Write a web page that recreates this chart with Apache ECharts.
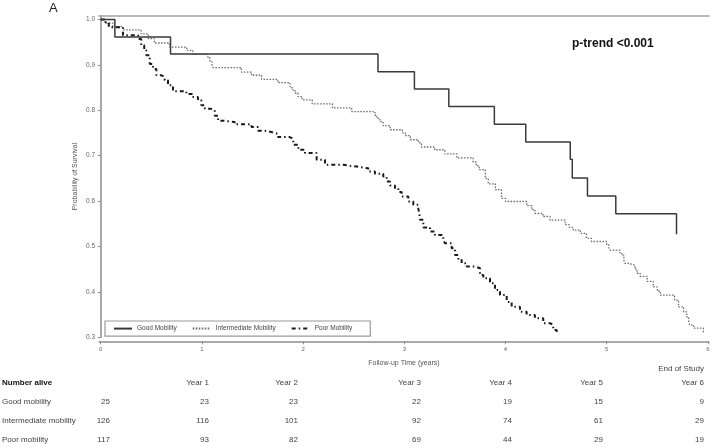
<!DOCTYPE html>
<html><head><meta charset="utf-8">
<script src="https://cdn.jsdelivr.net/npm/echarts@6/dist/echarts.min.js"></script>
<style>html,body{margin:0;padding:0;background:#fff}#c{width:717px;height:448px}</style>
</head><body><div id="c"></div>
<script>
// ---- data ----
const xTicks = [0, 1, 2, 3, 4, 5, 6];
const yTicks = [0.3, 0.4, 0.5, 0.6, 0.7, 0.8, 0.9, 1.0];
const seriesNames = ['Good Mobility', 'Intermediate Mobility', 'Poor Mobility'];

const goodTime = [0, 0.14, 0.69, 2.74, 3.10, 3.44, 3.89, 4.20, 4.64, 4.66, 4.81, 5.09, 5.69];
const goodSurv = [1.0, 0.961, 0.924, 0.885, 0.847, 0.808, 0.769, 0.730, 0.692, 0.651, 0.611, 0.572, 0.527];

const interTime = [0, 0.04, 0.12, 0.22, 0.40, 0.47, 0.53, 0.68, 0.85, 0.91, 1.06, 1.08, 1.10, 1.11, 1.39, 1.49, 1.59, 1.75, 1.87, 1.89, 1.92, 1.95, 1.99, 2.09, 2.29, 2.48, 2.71, 2.73, 2.76, 2.79, 2.86, 2.98, 3.01, 3.06, 3.14, 3.17, 3.30, 3.40, 3.52, 3.68, 3.71, 3.74, 3.80, 3.83, 3.90, 3.96, 4.00, 4.21, 4.26, 4.29, 4.37, 4.44, 4.59, 4.63, 4.67, 4.74, 4.80, 4.85, 5.00, 5.02, 5.03, 5.13, 5.15, 5.17, 5.18, 5.21, 5.28, 5.30, 5.33, 5.40, 5.46, 5.50, 5.53, 5.67, 5.71, 5.76, 5.79, 5.81, 5.82, 5.86, 5.955];
const interSurv = [1.0, 0.992, 0.984, 0.977, 0.968, 0.958, 0.948, 0.939, 0.932, 0.923, 0.915, 0.907, 0.900, 0.894, 0.884, 0.877, 0.868, 0.861, 0.852, 0.845, 0.838, 0.830, 0.823, 0.814, 0.805, 0.797, 0.789, 0.782, 0.775, 0.766, 0.757, 0.750, 0.744, 0.735, 0.728, 0.719, 0.713, 0.704, 0.695, 0.686, 0.678, 0.669, 0.650, 0.638, 0.625, 0.606, 0.599, 0.590, 0.581, 0.573, 0.566, 0.558, 0.548, 0.542, 0.536, 0.529, 0.518, 0.511, 0.504, 0.498, 0.492, 0.486, 0.481, 0.470, 0.463, 0.459, 0.450, 0.441, 0.434, 0.423, 0.411, 0.402, 0.393, 0.382, 0.367, 0.356, 0.345, 0.336, 0.327, 0.320, 0.309];

const poorTime = [0, 0.04, 0.08, 0.22, 0.37, 0.40, 0.43, 0.45, 0.485, 0.517, 0.55, 0.60, 0.632, 0.665, 0.714, 0.846, 0.912, 0.961, 0.994, 1.03, 1.09, 1.127, 1.16, 1.21, 1.324, 1.49, 1.554, 1.62, 1.686, 1.752, 1.868, 1.903, 1.953, 2.019, 2.134, 2.216, 2.397, 2.447, 2.53, 2.644, 2.71, 2.792, 2.826, 2.859, 2.908, 2.941, 2.974, 3.04, 3.089, 3.138, 3.15, 3.155, 3.188, 3.254, 3.303, 3.385, 3.402, 3.468, 3.501, 3.534, 3.567, 3.617, 3.699, 3.748, 3.781, 3.847, 3.896, 3.946, 4.012, 4.061, 4.143, 4.209, 4.291, 4.373, 4.44, 4.472, 4.506];
const poorSurv = [1.0, 0.994, 0.983, 0.965, 0.957, 0.943, 0.932, 0.921, 0.902, 0.891, 0.877, 0.873, 0.866, 0.855, 0.842, 0.836, 0.829, 0.822, 0.811, 0.803, 0.800, 0.788, 0.777, 0.774, 0.769, 0.763, 0.755, 0.752, 0.748, 0.741, 0.737, 0.724, 0.713, 0.706, 0.691, 0.680, 0.678, 0.676, 0.672, 0.665, 0.660, 0.654, 0.643, 0.634, 0.628, 0.620, 0.610, 0.599, 0.592, 0.584, 0.570, 0.559, 0.542, 0.533, 0.525, 0.514, 0.507, 0.496, 0.481, 0.470, 0.463, 0.456, 0.452, 0.437, 0.430, 0.419, 0.404, 0.393, 0.378, 0.367, 0.356, 0.349, 0.342, 0.331, 0.327, 0.316, 0.309];

const tableHeader = ['', 'Year 1', 'Year 2', 'Year 3', 'Year 4', 'Year 5', 'Year 6'];
const tableRowLabels = ['Good mobility', 'Intermediate mobility', 'Poor mobility'];
const aliveGood = [25, 23, 23, 22, 19, 15, 9];
const aliveInter = [126, 116, 101, 92, 74, 61, 29];
const alivePoor = [117, 93, 82, 69, 44, 29, 19];

// ---- layout / style ----
const FONT = '"Liberation Sans", Arial, sans-serif';
const colRight = [110, 209, 298, 421, 512, 603, 704];
const rowY = [383, 402, 421, 440];
const zip = (t, s) => t.map((v, i) => [v, s[i]]);
const frameColor = '#a3a3a3';
const xMin = -0.0168, xMax = 6.011;

const graphics = [];
graphics.push({type: 'text', left: 49, top: 2, style: {text: 'A', fontSize: 13, fontFamily: FONT, fill: '#222'}});
graphics.push({type: 'text', left: 572, top: 38, style: {text: 'p-trend <0.001', fontSize: 12, fontWeight: 'bold', fontFamily: FONT, fill: '#111'}});
function txt(text, x, y, align, opts) {
  graphics.push({type: 'text', x: x, y: y, style: Object.assign({text: String(text), align: align, verticalAlign: 'middle', fontSize: 8, fontFamily: FONT, fill: '#444'}, opts || {})});
}
txt('Number alive', 2, rowY[0], 'left', {fontWeight: 'bold', fill: '#111'});
tableHeader.forEach((h, i) => { if (h) txt(h, colRight[i], rowY[0], 'right'); });
txt('End of Study', colRight[6], rowY[0] - 14, 'right');
[aliveGood, aliveInter, alivePoor].forEach((row, r) => {
  txt(tableRowLabels[r], 2, rowY[r + 1], 'left');
  row.forEach((v, i) => txt(v, colRight[i], rowY[r + 1], 'right'));
});

const chart = echarts.init(document.getElementById('c'));
chart.setOption({
  animation: false,
  grid: {left: 99, right: 8, top: 16, bottom: 110.7},
  xAxis: [{
    type: 'value', min: xMin, max: xMax, offset: 4,
    axisLine: {show: true, lineStyle: {color: '#8e8e8e', width: 1.5}},
    axisTick: {show: true, length: 3, customValues: xTicks, lineStyle: {color: '#8e8e8e'}},
    axisLabel: {customValues: xTicks, fontSize: 6, color: '#666', margin: 5, fontFamily: FONT},
    splitLine: {show: false},
    name: 'Follow-up Time (years)', nameLocation: 'middle', nameGap: 18, nameMoveOverlap: false,
    nameTextStyle: {fontSize: 7, color: '#555', fontFamily: FONT}
  }, {
    type: 'value', position: 'top', min: xMin, max: xMax,
    axisLine: {show: true, lineStyle: {color: frameColor, width: 1.5}},
    axisTick: {show: false}, axisLabel: {show: false}, splitLine: {show: false}
  }],
  yAxis: [{
    type: 'value', min: 0.3, max: 1.0075,
    axisLine: {show: true, lineStyle: {color: frameColor, width: 1.5}},
    axisTick: {show: true, length: 3, customValues: yTicks, lineStyle: {color: '#8e8e8e'}},
    axisLabel: {customValues: yTicks, fontSize: 6.5, color: '#666', margin: 4, fontFamily: FONT, formatter: v => v.toFixed(1)},
    splitLine: {show: false},
    name: 'Probability of Survival', nameLocation: 'middle', nameGap: 20, nameRotate: 90, nameMoveOverlap: false,
    nameTextStyle: {fontSize: 7, color: '#555', fontFamily: FONT}
  }, {
    type: 'value', position: 'right', min: 0.3, max: 1.0075,
    axisLine: {show: true, lineStyle: {color: frameColor, width: 1.5}},
    axisTick: {show: false}, axisLabel: {show: false}, splitLine: {show: false}
  }],
  legend: {
    left: 105, top: 321, orient: 'horizontal',
    itemWidth: 18, itemHeight: 9, itemGap: 15,
    padding: [4, 18, 4, 8],
    borderColor: '#9a9a9a', borderWidth: 1.2,
    itemStyle: {opacity: 0},
    textStyle: {fontSize: 6.5, color: '#444', fontFamily: FONT},
    data: seriesNames
  },
  graphic: graphics,
  series: [
    {type: 'line', name: seriesNames[0], data: zip(goodTime, goodSurv), step: 'end', symbol: 'none', silent: true, z: 3,
     lineStyle: {color: '#3a3a3a', width: 1.5, type: 'solid'}, itemStyle: {color: '#3a3a3a'}},
    {type: 'line', name: seriesNames[1], data: zip(interTime, interSurv), step: 'end', symbol: 'none', silent: true, z: 2,
     lineStyle: {color: '#6a6a6a', width: 1.3, type: [1.5, 1.5]}, itemStyle: {color: '#6a6a6a'}},
    {type: 'line', name: seriesNames[2], data: zip(poorTime, poorSurv), step: 'end', symbol: 'none', silent: true, z: 2,
     lineStyle: {color: '#1a1a1a', width: 2, type: [4, 3, 1.5, 3]}, itemStyle: {color: '#1a1a1a'}}
  ]
});
</script></body></html>
